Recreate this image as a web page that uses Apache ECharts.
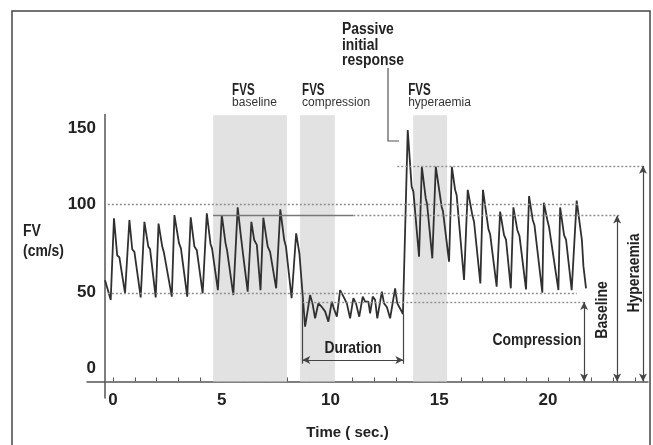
<!DOCTYPE html>
<html>
<head>
<meta charset="utf-8">
<script src="https://cdn.jsdelivr.net/npm/echarts@6/dist/echarts.min.js"></script>
<style>
html, body { margin: 0; padding: 0; background: #fff; }
#chart { width: 653px; height: 445px; }
</style>
</head>
<body>
<div id="chart"></div>
<script>
// flow velocity trace: time (s) and FV (cm/s)
const timeSec = [-0.37, -0.11, 0.04, 0.19, 0.29, 0.55, 0.75, 0.88, 0.98, 1.27, 1.44, 1.62, 1.70, 1.96, 2.09, 2.26, 2.34, 2.70, 2.82, 3.03, 3.12, 3.41, 3.57, 3.74, 3.85, 4.12, 4.31, 4.48, 4.55, 4.82, 5.00, 5.17, 5.24, 5.53, 5.73, 5.88, 5.99, 6.19, 6.36, 6.49, 6.61, 6.78, 6.91, 7.11, 7.22, 7.50, 7.69, 7.87, 7.95, 8.21, 8.42, 8.57, 8.83, 9.06, 9.17, 9.29, 9.44, 9.60, 9.75, 9.90, 10.06, 10.13, 10.29, 10.44, 10.59, 10.75, 10.90, 11.05, 11.17, 11.32, 11.48, 11.59, 11.74, 11.82, 11.94, 12.05, 12.15, 12.36, 12.46, 12.59, 12.74, 12.97, 13.07, 13.16, 13.28, 13.33, 13.55, 13.73, 13.81, 14.07, 14.20, 14.38, 14.44, 14.68, 14.84, 15.11, 15.17, 15.45, 15.58, 15.73, 15.80, 16.14, 16.31, 16.52, 16.60, 16.89, 17.01, 17.26, 17.34, 17.64, 17.80, 17.98, 18.07, 18.29, 18.41, 18.59, 18.69, 18.99, 19.13, 19.30, 19.38, 19.74, 19.81, 19.97, 20.05, 20.48, 20.56, 20.74, 20.83, 21.09, 21.32, 21.56, 21.63, 21.68, 21.75];
const fvCm = [57, 46, 92, 71, 70, 49.7, 91, 74.5, 73, 47.4, 90, 76, 74.6, 47.4, 89, 76, 72.5, 47.8, 93.8, 78, 75, 47.8, 92.5, 76, 74, 49.7, 94.8, 77.5, 75, 51.5, 93.8, 78, 74, 48.7, 98.1, 81.6, 70.3, 50.6, 90, 79.7, 77, 51.5, 92.3, 76, 73, 52.5, 97, 79.7, 76, 46.9, 83.5, 72, 30.9, 48.7, 44, 35.6, 44, 42, 39.5, 33.7, 45, 42, 36.5, 51.5, 48, 44, 35.6, 46.9, 44, 36.5, 47.8, 45, 45, 38.4, 47.8, 46, 35.6, 50.6, 44, 42, 35.6, 52.5, 44, 42, 39.3, 38, 141.7, 109.8, 107, 70.3, 121, 103, 100, 69.4, 121, 98.5, 96, 67.5, 121, 108, 105, 57.2, 108, 93.8, 90, 55.3, 108, 86, 83, 53.4, 95.7, 82.5, 80, 52.5, 98.1, 85.4, 82, 51.9, 104.5, 91, 88, 50, 100.7, 91, 87, 51.5, 98.1, 82.5, 80, 51.5, 101.9, 79.7, 65, 64, 52.5];

// FVS windows (s)
const fvsNames = ['baseline', 'compression', 'hyperaemia'];
const fvsStart = [4.6, 8.6, 13.8];
const fvsEnd = [8.0, 10.2, 15.36];
const fvsTop = 150;

// axis ticks
const xLabels = [0, 5, 10, 15, 20];
const xMinorTicks = [0, 1, 2, 3, 4, 5, 6, 7, 8, 9, 10, 11, 12, 13, 14, 15, 16, 17, 18, 19, 20, 21, 22, 23, 24];
const yLabels = [0, 50, 100, 150];

// levels (cm/s) and where they are marked (s)
const guideLevels = [100, 50];
const guideEnd = [21.4, 21.32];
const baselineLevel = 93.5;
const compressionLevel = 44.8;
const hyperaemiaLevel = 121.5;
const arrowAt = { compression: 21.66, baseline: 23.18, hyperaemia: 24.37 };
const durationFrom = 8.7;
const durationTo = 13.35;
const durationLevel = 12.1;

const ink = '#222';
const axisGray = '#555';
const plain = "'Liberation Sans', Arial, sans-serif";
const boldFont = 'bold 16px ' + plain;
const squeeze = 0.87; // the figure uses a condensed face

const chart = echarts.init(document.getElementById('chart'));

const dotted = { type: [2, 2], color: '#8f8f8f', width: 1.4 };
const arrow = { symbol: 'arrow', symbolSize: [6, 8] };

function seg(x0, y0, x1, y1, style, s0, s1) {
  return [
    Object.assign({ coord: [x0, y0], lineStyle: style }, s0 || {}),
    Object.assign({ coord: [x1, y1] }, s1 || {})
  ];
}

const lines = [];
guideLevels.forEach((lv, i) => lines.push(seg(-0.24, lv, guideEnd[i], lv, dotted)));
// baseline: solid over the FVS window, then dotted
lines.push(seg(fvsStart[0], baselineLevel, 11.05, baselineLevel, { type: 'solid', color: '#777', width: 1.4 }));
lines.push(seg(11.05, baselineLevel, 23.3, baselineLevel, dotted));
lines.push(seg(durationFrom, compressionLevel, arrowAt.compression, compressionLevel, dotted));
lines.push(seg(13.07, hyperaemiaLevel, arrowAt.hyperaemia, hyperaemiaLevel, dotted));
// double arrows
const arrowStyle = { type: 'solid', color: '#444', width: 1.2 };
lines.push(seg(arrowAt.compression, compressionLevel, arrowAt.compression, 0, arrowStyle, arrow, arrow));
lines.push(seg(arrowAt.baseline, baselineLevel, arrowAt.baseline, 0, arrowStyle, arrow, arrow));
lines.push(seg(arrowAt.hyperaemia, hyperaemiaLevel, arrowAt.hyperaemia, 0, arrowStyle, arrow, arrow));
// duration
lines.push(seg(durationFrom, 48, durationFrom, 10, arrowStyle));
lines.push(seg(durationTo, 38, durationTo, 10, arrowStyle));
lines.push(seg(durationFrom, durationLevel, durationTo, durationLevel, arrowStyle, arrow, arrow));

const labelDx = [19, 2, -5];

function note(x, y, text, extra) {
  return Object.assign({
    type: 'text', silent: true, z: 10, x: x, y: y, scaleX: squeeze,
    style: { text: text, font: boldFont, fill: ink, align: 'center', verticalAlign: 'middle' }
  }, extra || {});
}

const graphics = [
  { type: 'rect', silent: true, shape: { x: 12, y: 11, width: 638, height: 460 }, style: { fill: 'none', stroke: '#444', lineWidth: 1.5 } },
  note(23, 222, '', { style: { text: 'FV\n(cm/s)', font: boldFont, lineHeight: 20, fill: ink } }),
  note(342, 22, '', { style: { text: 'Passive\ninitial\nresponse', font: boldFont, lineHeight: 15.5, fill: ink } }),
  { type: 'polyline', silent: true, shape: { points: [[388, 68], [388, 141], [399, 141]] }, style: { stroke: axisGray, lineWidth: 1.2, fill: 'none' } },
  note(353, 349, 'Duration'),
  note(537, 341, 'Compression'),
  note(603, 310, 'Baseline', { rotation: Math.PI / 2 }),
  note(635, 273, 'Hyperaemia', { rotation: Math.PI / 2 })
];

const option = {
  animation: false,
  grid: { left: 87, right: 5, top: 114.4, bottom: 47, outerBoundsMode: 'none' },
  xAxis: {
    type: 'value',
    min: -1.2,
    max: 24.6,
    axisLine: { onZero: true, lineStyle: { color: axisGray, width: 1.5 } },
    axisTick: { show: true, inside: true, length: 4, customValues: xMinorTicks, lineStyle: { color: axisGray, width: 1 } },
    axisLabel: { customValues: xLabels, margin: -6, color: ink, fontFamily: plain, fontWeight: 'bold', fontSize: 17 },
    splitLine: { show: false },
    name: 'Time ( sec.)',
    nameLocation: 'middle',
    nameGap: 27,
    nameTextStyle: { color: ink, fontFamily: plain, fontWeight: 'bold', fontSize: 15, padding: [0, 40, 0, 0] }
  },
  yAxis: {
    type: 'value',
    min: -9.3,
    max: 150.5,
    offset: -18,
    axisLine: { show: true, onZero: false, lineStyle: { color: axisGray, width: 1.5 } },
    axisTick: { show: false },
    splitLine: { show: false },
    axisLabel: {
      customValues: yLabels,
      margin: 9,
      formatter: v => v === 150 ? '{lo|150}' : v === 0 ? '{hi|0}' : '{n|' + v + '}',
      rich: {
        n: { color: ink, fontFamily: plain, fontWeight: 'bold', fontSize: 17 },
        lo: { color: ink, fontFamily: plain, fontWeight: 'bold', fontSize: 17, padding: [26, 0, 0, 0] },
        hi: { color: ink, fontFamily: plain, fontWeight: 'bold', fontSize: 17, padding: [0, 0, 27, 0] }
      }
    }
  },
  series: [{
    type: 'line',
    data: timeSec.map((t, i) => [t, fvCm[i]]),
    symbol: 'none',
    lineStyle: { color: '#303030', width: 1.8 },
    z: 3,
    markArea: {
      silent: true,
      itemStyle: { color: '#e2e2e2' },
      data: fvsNames.map((nm, i) => [
        { xAxis: fvsStart[i], yAxis: 0 },
        { xAxis: fvsEnd[i], yAxis: fvsTop }
      ])
    },
    markLine: {
      silent: true,
      symbol: 'none',
      label: { show: false },
      data: lines
    }
  }],
  graphic: graphics
};

chart.setOption(option);

// FVS captions sit above each window
fvsNames.forEach((nm, i) => {
  const p = chart.convertToPixel({ gridIndex: 0 }, [fvsStart[i], fvsTop]);
  const x = p[0] + labelDx[i];
  graphics.push({
    type: 'text', silent: true, z: 10, x: x, y: p[1] - 25, scaleX: 0.68,
    style: { text: 'FVS', font: 'bold 17px ' + plain, fill: ink, verticalAlign: 'middle' }
  });
  graphics.push({
    type: 'text', silent: true, z: 10, x: x, y: p[1] - 13,
    style: { text: nm, font: '12px ' + plain, fill: '#333', verticalAlign: 'middle' }
  });
});
chart.setOption({ graphic: graphics });
</script>
</body>
</html>
